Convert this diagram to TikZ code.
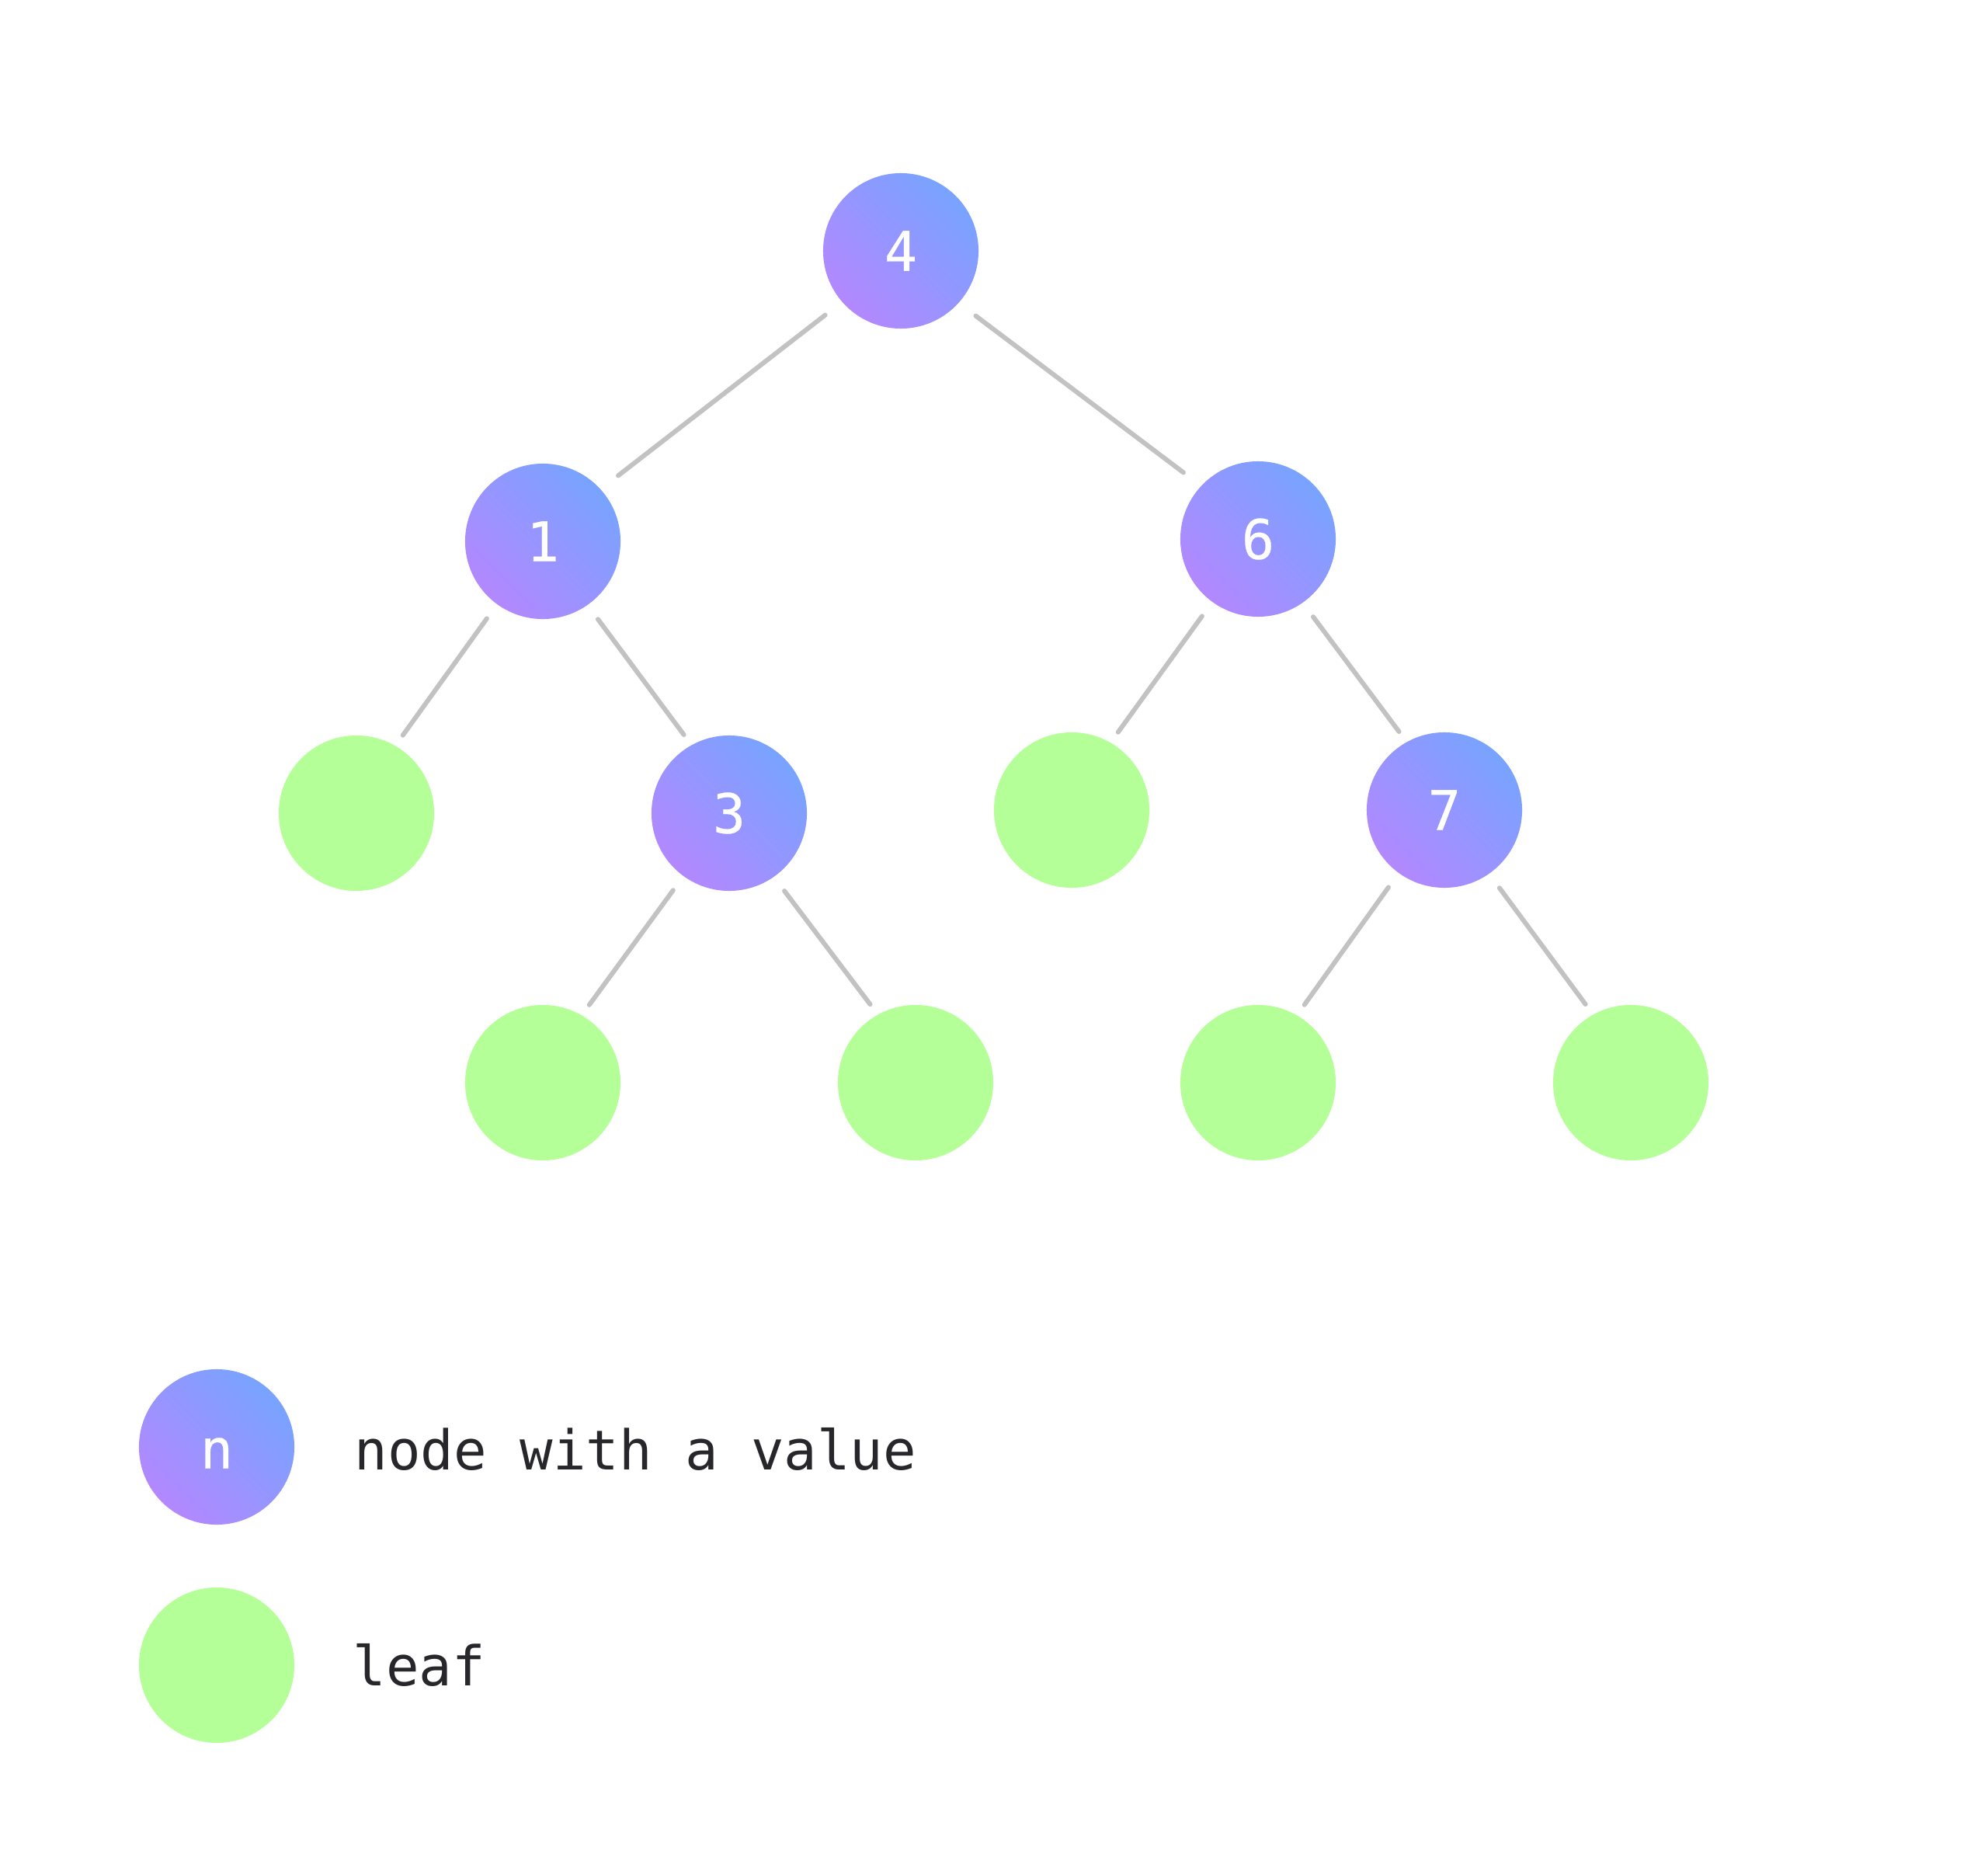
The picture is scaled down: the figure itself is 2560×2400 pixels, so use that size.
\documentclass[tikz,border=0pt]{standalone}
\usepackage{fontspec}
\setmonofont{DejaVu Sans Mono}
\newfontfamily\nodefont[FakeBold=0.4]{DejaVu Sans Mono}
\definecolor{gradA}{HTML}{B388FF}
\definecolor{gradB}{HTML}{78A3FF}
\definecolor{leafgreen}{HTML}{B5FF98}
\definecolor{edgegray}{HTML}{C2C2C2}
\definecolor{txt}{HTML}{27262B}
\begin{document}
\begin{tikzpicture}[x=0.01cm,y=-0.01cm,
  valnode/.style={circle, minimum size=2cm, inner sep=0pt, draw=none,
    bottom color=gradA, top color=gradB, shading angle=-45,
    text=white, font=\nodefont\fontsize{20}{24}\selectfont},
  leafnode/.style={circle, minimum size=2cm, inner sep=0pt, draw=none, fill=leafgreen},
  edge/.style={draw=edgegray, line width=1.7pt, line cap=round},
  topedge/.style={edge, shorten <=0.27cm, shorten >=0.28cm},
  lowedge/.style={edge, shorten <=0.22cm, shorten >=0.16cm},
  legtext/.style={anchor=base west, inner sep=0pt, text=txt,
    font=\ttfamily\fontsize{20.1}{25}\selectfont}]
\useasboundingbox (0,0) rectangle (2560,2400);
\fill[white] (0,0) rectangle (2560,2400);
% tree
\node[valnode] (n4) at (1160,323) {4};
\node[valnode] (n1) at (699,697) {1};
\node[valnode] (n6) at (1620,694) {6};
\node[leafnode] (l1) at (459,1047) {};
\node[valnode] (n3) at (939,1047) {3};
\node[leafnode] (l6) at (1380,1043) {};
\node[valnode] (n7) at (1860,1043) {7};
\node[leafnode] (l3a) at (699,1394) {};
\node[leafnode] (l3b) at (1179,1394) {};
\node[leafnode] (l7a) at (1620,1394) {};
\node[leafnode] (l7b) at (2100,1394) {};
\draw[topedge] (n4.221.5) -- (n1.42.8);
\draw[topedge] (n4.318.5) -- (n6.137.2);
\draw[lowedge] (n1.234.5) -- (l1.60.6);
\draw[lowedge] (n1.305.5) -- (n3.119.4);
\draw[lowedge] (n6.234.5) -- (l6.60.6);
\draw[lowedge] (n6.305.5) -- (n7.119.4);
\draw[lowedge] (n3.234.5) -- (l3a.60.6);
\draw[lowedge] (n3.305.5) -- (l3b.119.4);
\draw[lowedge] (n7.234.5) -- (l7a.60.6);
\draw[lowedge] (n7.305.5) -- (l7b.119.4);
% legend
\node[valnode] (legval) at (279,1863) {\raisebox{-0.08cm}[\height][0pt]{n}};
\node[leafnode] (legleaf) at (279,2144) {};
\node[legtext] (legvaltxt) at (456,1892) {node with a value};
\node[legtext] (legleaftxt) at (454,2170) {leaf};
\end{tikzpicture}
\end{document}
